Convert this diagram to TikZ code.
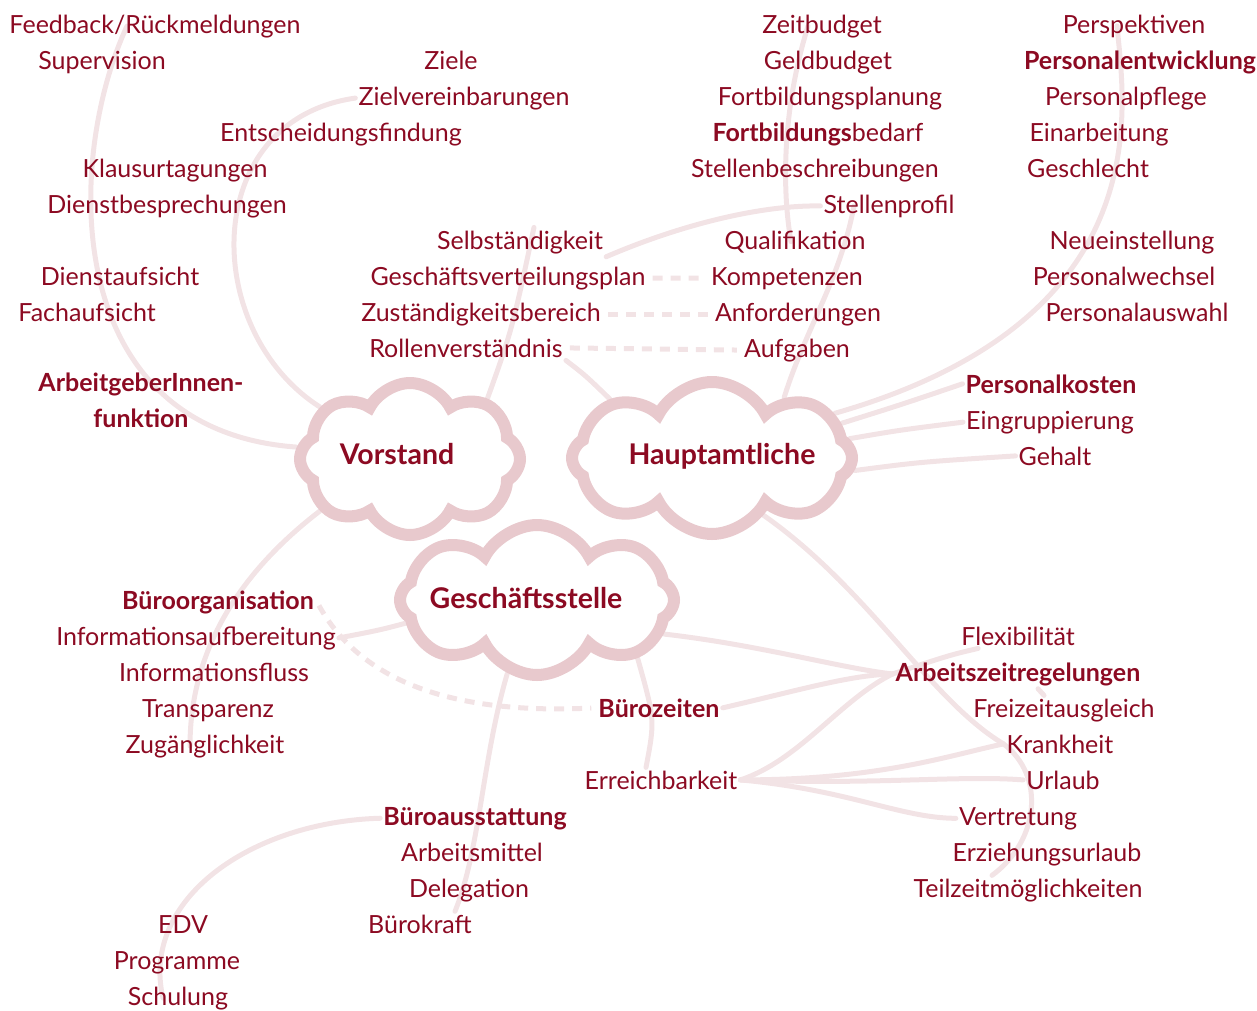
\documentclass[tikz,border=0pt]{standalone}
\usepackage{fontspec}
\setmainfont{Lato}
\usetikzlibrary{shapes.symbols,backgrounds}

\definecolor{weinrot}{HTML}{8C0A22}
\definecolor{wolkenrosa}{HTML}{E8C9CD}
\definecolor{linienrosa}{HTML}{F2E3E5}

\tikzset{
    begriff/.style={text=weinrot, anchor=base, inner sep=3pt, font=\fontsize{25}{36}\selectfont},
    fett/.style={begriff, font=\fontsize{25}{36}\selectfont\bfseries},
    wolke/.style={cloud, cloud puffs=8, cloud puff arc=125, cloud ignores aspect,
        draw=wolkenrosa, line width=12pt, fill=white, inner sep=0pt},
    wolkentext/.style={text=weinrot, anchor=base, font=\fontsize{28.5}{34}\selectfont\bfseries},
    linie/.style={draw=linienrosa, line width=5pt, line cap=round},
    strich/.style={linie, line cap=butt, dash pattern=on 10pt off 8pt, shorten <=4pt, shorten >=4pt}
}

\begin{document}
\begin{tikzpicture}[x=1pt,y=-1pt]
        \useasboundingbox (0,0) rectangle (1257,1010);
        % Wolken
        \node[wolke, minimum width=220pt, minimum height=152pt] (vorstand) at (410,459) {};
        \node[wolke, minimum width=280pt, minimum height=152pt] (haupt) at (712,458) {};
        \node[wolke, minimum width=274pt, minimum height=150pt] (gs) at (537,600) {};
        \node[wolkentext] (vorstandtext) at (397,464) {Vorstand};
        \node[wolkentext] (haupttext) at (722,464) {Hauptamtliche};
        \node[wolkentext] (gstext) at (526,608) {Geschäftsstelle};
        % Begriffe
        \node[begriff] (fb) at (155,33) {Feedback/Rückmeldungen};
        \foreach \name/\x/\y/\wort in {
            supervision/102/69/Supervision, ziele/451/69/Ziele,
            zielver/464/105/Zielvereinbarungen, entscheid/341/141/Entscheidungsfindung,
            klausur/175/177/Klausurtagungen, dienstbespr/167/213/Dienstbesprechungen,
            dienstauf/120/285/Dienstaufsicht, fachauf/87/321/Fachaufsicht,
            selbst/520/249/Selbständigkeit, gvplan/508/285/Geschäftsverteilungsplan,
            zustaendig/481/321/Zuständigkeitsbereich, rollen/466/357/Rollenverständnis,
            zeit/822/33/Zeitbudget, geld/828/69/Geldbudget,
            fbplanung/830/105/Fortbildungsplanung, stellenbeschr/815/177/Stellenbeschreibungen,
            stellenprofil/889/213/Stellenprofil, quali/795/249/Qualifikation,
            kompetenz/787/285/Kompetenzen, anford/798/321/Anforderungen,
            aufgaben/797/357/Aufgaben,
            persp/1134/33/Perspektiven, pflege/1126/105/Personalpflege,
            einarb/1099/141/Einarbeitung, geschlecht/1088/177/Geschlecht,
            neueinst/1132/249/Neueinstellung, pwechsel/1124/285/Personalwechsel,
            pauswahl/1137/321/Personalauswahl,
            eingrupp/1050/429/Eingruppierung, gehalt/1055/465/Gehalt,
            infoauf/196/645/Informationsaufbereitung, infofluss/214/681/Informationsfluss,
            transparenz/208/717/Transparenz, zugang/205/753/Zugänglichkeit,
            erreichbar/661/789/Erreichbarkeit,
            arbeitsmittel/472/861/Arbeitsmittel, delegation/469/897/Delegation,
            buerokraft/420/933/Bürokraft,
            edv/183/933/EDV, programme/177/969/Programme, schulung/178/1005/Schulung,
            flex/1018/645/Flexibilität, freizeit/1064/717/Freizeitausgleich,
            krank/1060/753/Krankheit, urlaub/1063/789/Urlaub,
            vertretung/1018/825/Vertretung, erziehung/1047/861/Erziehungsurlaub,
            teilzeit/1028/897/Teilzeitmöglichkeiten
        }{
            \node[begriff] (\name) at (\x,\y) {\wort};
        }
        \node[begriff] (fbbedarf) at (818,141) {\textbf{Fortbildungs}bedarf};
        \foreach \name/\x/\y/\wort in {
            pentw/1140/69/Personalentwicklung, pkosten/1051/393/Personalkosten,
            bueroorg/218/609/Büroorganisation, buerozeiten/659/717/Bürozeiten,
            bueroausst/475/825/Büroausstattung, azr/1018/681/Arbeitszeitregelungen
        }{
            \node[fett] (\name) at (\x,\y) {\wort};
        }
        \node[fett, anchor=center, align=center] (agfunktion) at (141,400) {ArbeitgeberInnen-\\funktion};
        % Verbindungen
        \begin{pgfonlayer}{background}
            \draw[linie] (vorstand.174) .. controls (60,430) and (65,160) .. ([xshift=-28pt]fb.center);
            \draw[linie] (vorstand.150) .. controls (200,330) and (200,120) .. (zielver.west);
            \draw[linie] (vorstand.38) .. controls (512,330) .. ([xshift=14pt]selbst.north);
            \draw[linie] (vorstand.-150) .. controls (230,580) and (190,660) .. ([xshift=-15pt]zugang.center);
            \draw[linie] (selbst.south east) .. controls (680,225) and (760,205) .. (stellenprofil.west);
            \draw[linie] ([xshift=-14pt]zeit.center) .. controls (782,110) and (782,190) .. ([xshift=-4pt]quali.center);
            \draw[linie] ([xshift=-35pt]stellenprofil.center) .. controls (840,280) and (805,330) .. (haupt.40);
            \draw[linie] (rollen.south east) .. controls (585,375) .. (haupt.150);
            \draw[linie] (haupt.20) .. controls (1160,320) and (1125,110) .. ([xshift=-17pt]persp.center);
            \draw[linie] (haupt.15) .. controls (900,405) .. (pkosten.west);
            \draw[linie] (haupt.8) .. controls (900,430) .. (eingrupp.west);
            \draw[linie] (haupt.-5) .. controls (920,462) .. (gehalt.west);
            \draw[linie] (haupt.-48) .. controls (870,590) and (930,700) .. (krank.west)
                .. controls (1045,775) and (1040,840) .. ([xshift=-36pt]teilzeit.north);
            \draw[linie] (gs.-15) .. controls (760,645) and (840,668) .. (azr.west);
            \draw[linie] (gs.-30) .. controls (655,720) .. ([xshift=-15pt]erreichbar.north);
            \draw[linie] (gs.-112) .. controls (482,760) and (480,850) .. ([xshift=-20pt]buerokraft.north east);
            \draw[linie] (gs.190) .. controls (380,630) .. (infoauf.east);
            \draw[linie] (buerozeiten.east) .. controls (800,690) and (850,675) .. (azr.west);
            \draw[linie] (erreichbar.east) .. controls (800,760) and (840,700) .. (azr.west);
            \draw[linie] ([xshift=20pt]flex.south west) .. controls (950,655) .. (azr.west);
            \draw[linie] ([xshift=20pt]azr.south) -- ([xshift=-20pt]freizeit.north);
            \draw[linie] (erreichbar.east) .. controls (880,780) and (950,755) .. (krank.west);
            \draw[linie] (erreichbar.east) .. controls (880,785) and (960,775) .. (urlaub.west);
            \draw[linie] (erreichbar.east) .. controls (850,790) and (900,818) .. (vertretung.west);
            \draw[linie] (bueroausst.west) .. controls (250,822) and (140,900) .. ([xshift=-15pt]schulung.center);
            \draw[strich] (bueroorg.east) .. controls (360,680) and (450,715) .. (buerozeiten.west);
            \draw[strich] (gvplan.east) -- (kompetenz.west);
            \draw[strich] (zustaendig.east) -- (anford.west);
            \draw[strich] (rollen.east) -- (aufgaben.west);
        \end{pgfonlayer}
    \end{tikzpicture}
\end{document}
